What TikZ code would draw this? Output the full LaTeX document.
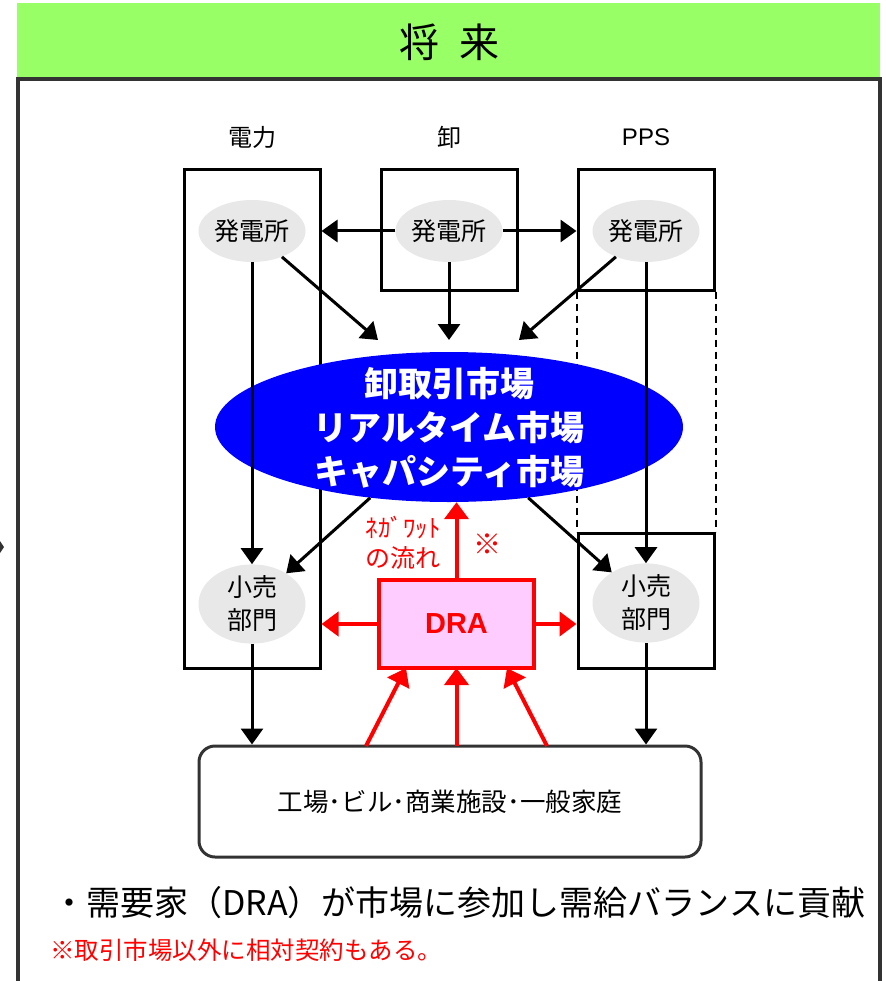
\documentclass[tikz,border=0pt]{standalone}
\usepackage{fontspec}
\setmainfont{Noto Sans CJK JP}
\newfontfamily\arialish{Liberation Sans}
\usetikzlibrary{arrows.meta,shapes.geometric}
\definecolor{hdrgreen}{HTML}{99FF66}
\definecolor{framegray}{HTML}{333333}
\definecolor{gengray}{HTML}{E8E8E8}
\definecolor{mkblue}{HTML}{0000FF}
\definecolor{drapink}{HTML}{FFCCFF}
\definecolor{myred}{HTML}{FF0000}
\tikzset{
  fs/.style={font=\fontsize{#1}{#1}\selectfont},
  fsb/.style={font=\fontsize{#1}{#1}\selectfont\bfseries},
  blkbox/.style={draw=black,line width=3pt,rectangle,inner sep=0pt},
  genell/.style={ellipse,fill=gengray,inner sep=0pt,minimum width=107pt,minimum height=62pt,fs=25},
  retell/.style={ellipse,fill=gengray,inner sep=0pt,minimum width=107pt,minimum height=77pt,fs=25,align=center},
  lbl/.style={fs=24,inner sep=0pt},
  mktxt/.style={fsb=34,text=white,inner sep=0pt},
  barr/.style={draw=black,line width=3pt,-{Triangle[width=22pt,length=16pt]}},
  rarr/.style={draw=myred,line width=4pt,-{Triangle[width=24pt,length=17pt]}},
}
\begin{document}
\begin{tikzpicture}[x=1pt,y=-1pt]
\useasboundingbox (0,0) rectangle (885,981);
% header
\fill[hdrgreen] (17,3) rectangle (880,77);
\node[fs=40,inner sep=0pt] (title) at (449,42) {将\hspace{0.5em}来};
% frame
\draw[framegray,line width=4pt] (18,981) -- (18,79) -- (880,79) -- (880,981);
% left edge fragment
\fill[framegray] (0,541) -- (4,547) -- (0,553) -- cycle;
% column labels
\node[lbl] (l1) at (252,137) {電力};
\node[lbl] (l2) at (449,137) {卸};
\node[lbl] (l3) at (646,137) {\arialish PPS};
% boxes
\node[blkbox,minimum width=136pt,minimum height=498pt] (b1) at (252,419) {};
\node[blkbox,minimum width=136pt,minimum height=120pt] (b2) at (449,230) {};
\node[blkbox,minimum width=136pt,minimum height=120pt] (b3) at (646,230) {};
\node[blkbox,minimum width=136pt,minimum height=135pt] (b4) at (646,600.5) {};
\draw[black,line width=2pt,dash pattern=on 7pt off 5pt] (b3.south west) -- (b4.north west);
\draw[black,line width=2pt,dash pattern=on 7pt off 5pt] (b3.south east) -- (b4.north east);
% generators
\node[genell] (g1) at (252,231) {発電所};
\node[genell] (g2) at (449,231) {発電所};
\node[genell] (g3) at (646,231) {発電所};
% market
\node[ellipse,fill=mkblue,inner sep=0pt,minimum width=468pt,minimum height=150pt] (mk) at (449,427) {};
\node[mktxt] (mt1) at (449,384) {卸取引市場};
\node[mktxt] (mt2) at (449,428) {リアルタイム市場};
\node[mktxt] (mt3) at (449,472) {キャパシティ市場};
% retail
\node[retell] (r1) at (252,604) {小売\\[8pt]部門};
\node[retell] (r2) at (646,603) {小売\\[8pt]部門};
% DRA
\node[draw=myred,line width=4.5pt,fill=drapink,inner sep=0pt,minimum width=155pt,minimum height=88pt,text=myred,fsb=29] (dra) at (456.5,624) {\arialish\bfseries DRA};
% consumers
\node[draw=framegray,line width=3pt,rounded corners=16pt,inner sep=0pt,minimum width=502pt,minimum height=111pt,fs=25.5] (bot) at (450,801.5) {工場･ビル･商業施設･一般家庭};
% coordinates
\coordinate (m1) at (378,340);
\coordinate (m2) at (449,340);
\coordinate (m3) at (519,340);
\coordinate (s1) at (366,746);
\coordinate (s2) at (456.5,746);
\coordinate (s3) at (547,746);
\coordinate (e1) at (406,668);
\coordinate (e2) at (456.5,668);
\coordinate (e3) at (507,668);
% black arrows
\draw[barr] (g2.west) -- (g2.west -| b1.east);
\draw[barr] (g2.east) -- (g2.east -| b3.west);
\draw[barr] (g1) -- (m1);
\draw[barr] (g2.south) -- (m2);
\draw[barr] (g3) -- (m3);
\draw[barr] (g1.south) -- (r1.north);
\draw[barr] (g3.south) -- (r2.north);
\draw[barr] (mk) -- (r1);
\draw[barr] (mk) -- (r2);
\draw[barr] (r1.south) -- (r1.south |- bot.north);
\draw[barr] (r2.south) -- (r2.south |- bot.north);
% red arrows
\draw[rarr] (dra.north) -- (dra.north |- mk.south);
\draw[rarr] (dra.west) -- (dra.west -| b1.east);
\draw[rarr] (dra.east) -- (dra.east -| b4.west);
\draw[rarr] (s1) -- (e1);
\draw[rarr] (s2) -- (e2);
\draw[rarr] (s3) -- (e3);
% red labels
\node[fs=25,text=myred,align=center,inner sep=0pt] (neg) at (403,543) {ﾈｶﾞﾜｯﾄ\\[5pt]の流れ};
\node[fs=28,text=myred,inner sep=0pt] (kome) at (487,544) {※};
% footer
\node[fs=34,anchor=west,inner sep=0pt] (foot) at (52,903) {・需要家（DRA）が市場に参加し需給バランスに貢献};
\node[fs=24.5,anchor=west,inner sep=0pt,text=myred] (note) at (50,950) {※取引市場以外に相対契約もある。};
\end{tikzpicture}
\end{document}
